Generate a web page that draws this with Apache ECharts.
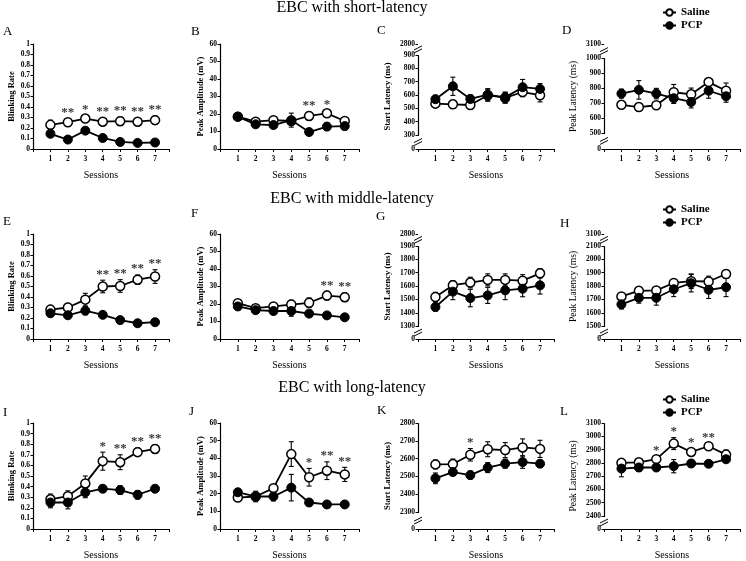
<!DOCTYPE html>
<html>
<head>
<meta charset="utf-8">
<script src="https://cdn.jsdelivr.net/npm/echarts@6/dist/echarts.min.js"></script>
<style>
html, body { margin: 0; padding: 0; background: #fff; }
#chart { width: 746px; height: 561px; }
</style>
</head>
<body>
<div id="chart"></div>
<script>
var sessions = [1, 2, 3, 4, 5, 6, 7]

// short-latency
var salineA = [0.23, 0.255, 0.29, 0.26, 0.265, 0.26, 0.275]
var salineErrA = [0.045, 0.03, 0.03, 0.035, 0.04, 0.035, 0.04]
var pcpA = [0.145, 0.09, 0.175, 0.105, 0.067, 0.058, 0.062]
var pcpErrA = [0.02, 0.02, 0.02, 0.015, 0.01, 0.01, 0.01]
var starsA = ['', '**', '*', '**', '**', '**', '**']

var salineB = [18.5, 15.6, 16.5, 16, 18.9, 20.4, 16]
var salineErrB = [1, 1.5, 1.2, 1.5, 2.2, 1.5, 1.5]
var pcpB = [18.5, 14.1, 13.7, 16.5, 9.7, 12.8, 13.1]
var pcpErrB = [1, 1.5, 1.2, 4, 1, 2, 2.2]
var starsB = ['', '', '', '', '**', '*', '']

var salineC = [535, 530, 525, 598, 578, 622, 598]
var salineErrC = [25, 30, 30, 45, 40, 35, 50]
var pcpC = [568, 665, 570, 602, 582, 658, 645]
var pcpErrC = [30, 68, 30, 45, 40, 58, 40]
var starsC = ['', '', '', '', '', '', '']

var salineD = [688, 673, 685, 772, 758, 840, 782]
var salineErrD = [20, 25, 25, 52, 42, 25, 52]
var pcpD = [763, 788, 763, 732, 707, 782, 745]
var pcpErrD = [30, 62, 35, 35, 40, 50, 40]
var starsD = ['', '', '', '', '', '', '']

// middle-latency
var salineE = [0.28, 0.30, 0.375, 0.50, 0.505, 0.565, 0.595]
var salineErrE = [0.04, 0.04, 0.06, 0.06, 0.06, 0.045, 0.065]
var pcpE = [0.245, 0.226, 0.27, 0.23, 0.18, 0.15, 0.16]
var pcpErrE = [0.02, 0.02, 0.04, 0.02, 0.02, 0.02, 0.02]
var starsE = ['', '', '', '**', '**', '**', '**']

var salineF = [20.5, 17.6, 18.6, 19.7, 20.7, 24.8, 23.9]
var salineErrF = [1.2, 1.2, 1.2, 2.5, 2.8, 2.5, 2.5]
var pcpF = [18.6, 16.5, 16, 16, 14.5, 13.5, 12.4]
var pcpErrF = [1, 1, 1, 3, 1, 1, 1]
var starsF = ['', '', '', '', '', '**', '**']

var salineG = [1518, 1606, 1626, 1646, 1646, 1640, 1695]
var salineErrG = [35, 35, 40, 45, 45, 45, 35]
var pcpG = [1443, 1558, 1510, 1530, 1568, 1580, 1605]
var pcpErrG = [30, 60, 65, 60, 70, 60, 65]
var starsG = ['', '', '', '', '', '', '']

var salineH = [1722, 1764, 1767, 1823, 1836, 1834, 1890]
var salineErrH = [25, 28, 25, 25, 55, 40, 30]
var pcpH = [1663, 1712, 1712, 1776, 1821, 1772, 1791]
var pcpErrH = [35, 40, 55, 55, 65, 65, 70]
var starsH = ['', '', '', '', '', '', '']

// long-latency
var salineI = [0.28, 0.31, 0.43, 0.64, 0.63, 0.725, 0.755]
var salineErrI = [0.05, 0.05, 0.07, 0.085, 0.07, 0.04, 0.04]
var pcpI = [0.25, 0.25, 0.345, 0.38, 0.367, 0.323, 0.38]
var pcpErrI = [0.05, 0.06, 0.05, 0.03, 0.04, 0.04, 0.03]
var starsI = ['', '', '', '*', '**', '**', '**']

var salineJ = [17.8, 18.4, 23.1, 42.4, 29.3, 33, 30.9]
var salineErrJ = [1.2, 2, 2, 7, 5, 5, 4]
var pcpJ = [20.8, 18.4, 18.4, 23.4, 15, 13.9, 13.9]
var pcpErrJ = [1.2, 3, 2.5, 7.5, 1, 0.8, 0.8]
var starsJ = ['', '', '', '', '*', '**', '**']

var salineK = [2568, 2570, 2622, 2653, 2648, 2663, 2655]
var salineErrK = [25, 28, 35, 42, 42, 48, 48]
var pcpK = [2490, 2525, 2508, 2550, 2572, 2581, 2572]
var pcpErrK = [30, 18, 22, 28, 25, 35, 18]
var starsK = ['', '', '*', '', '', '', '']

var salineL = [2800, 2804, 2828, 2945, 2882, 2925, 2862]
var salineErrL = [22, 18, 20, 45, 25, 22, 35]
var pcpL = [2757, 2765, 2765, 2775, 2795, 2793, 2827]
var pcpErrL = [62, 30, 25, 50, 25, 25, 20]
var starsL = ['', '', '*', '*', '*', '**', '']

var rowTitles = ['EBC with short-latency', 'EBC with middle-latency', 'EBC with long-latency']

// y axis scales (breaks: [start, end, gap])
var rateAxis = { name: 'Blinking Rate', min: 0, max: 1, interval: 0.1, breaks: [] }
var ampAxis = { name: 'Peak Amplitude (mV)', min: 0, max: 60, interval: 10, breaks: [] }
var startShort = { name: 'Start Latency (ms)', min: 0, max: 2800, interval: 100, breaks: [[0, 300, 104], [900, 2800, 81]] }
var peakShort = { name: 'Peak Latency (ms)', min: 0, max: 3100, interval: 100, breaks: [[0, 500, 108], [1000, 3100, 95]] }
var startMiddle = { name: 'Start Latency (ms)', min: 0, max: 2800, interval: 100, breaks: [[0, 1300, 96], [1900, 2800, 89]] }
var peakMiddle = { name: 'Peak Latency (ms)', min: 0, max: 3100, interval: 100, breaks: [[0, 1500, 96], [2100, 3100, 89]] }
var startLong = { name: 'Start Latency (ms)', min: 0, max: 2800, interval: 100, breaks: [[0, 2300, 94]] }
var peakLong = { name: 'Peak Latency (ms)', min: 0, max: 3100, interval: 100, breaks: [[0, 2400, 98]] }

var FONT = '"Liberation Serif", "Times New Roman", serif'
var colLeft = [33, 220, 418, 604]
var colWidth = [136, 139, 136, 136]
var rowTop = [44, 234, 423]
var rowHeight = [105, 105, 106]
var titleY = [8, 199, 388]
var legendTop = [2, 199, 389]

var panels = [
  { letter: 'A', row: 0, col: 0, s: salineA, se: salineErrA, p: pcpA, pe: pcpErrA, stars: starsA, y: rateAxis, lx: 3, ly: 32 },
  { letter: 'B', row: 0, col: 1, s: salineB, se: salineErrB, p: pcpB, pe: pcpErrB, stars: starsB, y: ampAxis, lx: 191, ly: 32 },
  { letter: 'C', row: 0, col: 2, s: salineC, se: salineErrC, p: pcpC, pe: pcpErrC, stars: starsC, y: startShort, lx: 377, ly: 31 },
  { letter: 'D', row: 0, col: 3, s: salineD, se: salineErrD, p: pcpD, pe: pcpErrD, stars: starsD, y: peakShort, lx: 562, ly: 31 },
  { letter: 'E', row: 1, col: 0, s: salineE, se: salineErrE, p: pcpE, pe: pcpErrE, stars: starsE, y: rateAxis, lx: 3, ly: 222 },
  { letter: 'F', row: 1, col: 1, s: salineF, se: salineErrF, p: pcpF, pe: pcpErrF, stars: starsF, y: ampAxis, lx: 191, ly: 214 },
  { letter: 'G', row: 1, col: 2, s: salineG, se: salineErrG, p: pcpG, pe: pcpErrG, stars: starsG, y: startMiddle, lx: 376, ly: 217 },
  { letter: 'H', row: 1, col: 3, s: salineH, se: salineErrH, p: pcpH, pe: pcpErrH, stars: starsH, y: peakMiddle, lx: 560, ly: 224 },
  { letter: 'I', row: 2, col: 0, s: salineI, se: salineErrI, p: pcpI, pe: pcpErrI, stars: starsI, y: rateAxis, lx: 3, ly: 413 },
  { letter: 'J', row: 2, col: 1, s: salineJ, se: salineErrJ, p: pcpJ, pe: pcpErrJ, stars: starsJ, y: ampAxis, lx: 189, ly: 412 },
  { letter: 'K', row: 2, col: 2, s: salineK, se: salineErrK, p: pcpK, pe: pcpErrK, stars: starsK, y: startLong, lx: 377, ly: 411 },
  { letter: 'L', row: 2, col: 3, s: salineL, se: salineErrL, p: pcpL, pe: pcpErrL, stars: starsL, y: peakLong, lx: 560, ly: 412 }
]

function renderErr (params, api) {
  var x = api.value(0)
  var y = api.value(1)
  var e = api.value(2)
  var top = api.coord([x, y + e])
  var bot = api.coord([x, y - e])
  var cap = 2.5
  var st = { stroke: '#000', lineWidth: 1.1 }
  return {
    type: 'group',
    children: [
      { type: 'line', shape: { x1: top[0], y1: top[1], x2: bot[0], y2: bot[1] }, style: st },
      { type: 'line', shape: { x1: top[0] - cap, y1: top[1], x2: top[0] + cap, y2: top[1] }, style: st },
      { type: 'line', shape: { x1: bot[0] - cap, y1: bot[1], x2: bot[0] + cap, y2: bot[1] }, style: st }
    ]
  }
}

// the two slashes on the y axis at each break
function renderBreak (params, api) {
  var a = api.coord([0, api.value(0)])
  var b = api.coord([0, api.value(1)])
  var x = a[0]
  var y = (a[1] + b[1]) / 2
  var st = { stroke: '#000', lineWidth: 1 }
  return {
    type: 'group',
    children: [
      { type: 'rect', shape: { x: x - 2, y: y - 1.5, width: 4, height: 3 }, style: { fill: '#fff' } },
      { type: 'line', shape: { x1: x - 4, y1: y + 0.5, x2: x + 4, y2: y - 3.5 }, style: st },
      { type: 'line', shape: { x1: x - 4, y1: y + 3.5, x2: x + 4, y2: y - 0.5 }, style: st }
    ]
  }
}

var grids = []
var xAxes = []
var yAxes = []
var series = []
var graphics = []

panels.forEach(function (pn, i) {
  var latency = pn.y.breaks.length > 0
  var peakLat = pn.y.name.indexOf('Peak Latency') === 0
  grids.push({ left: colLeft[pn.col], top: rowTop[pn.row], width: colWidth[pn.col], height: rowHeight[pn.row] })
  xAxes.push({
    type: 'value', gridIndex: i, min: 0, max: 7.8, interval: 1,
    name: 'Sessions', nameLocation: 'middle', nameGap: 21,
    nameTextStyle: { fontFamily: FONT, fontSize: 10, color: '#000' },
    axisLine: { lineStyle: { color: '#000', width: 1.2 } },
    axisTick: { show: true, length: 3, lineStyle: { color: '#000' } },
    splitLine: { show: false },
    axisLabel: {
      margin: 6, fontFamily: FONT, fontSize: 7.5, fontWeight: 'bold', color: '#000',
      formatter: function (v) { return (v >= 1 && v <= 7 && v % 1 === 0) ? String(v) : '' }
    }
  })
  var ya = {
    type: 'value', gridIndex: i, min: pn.y.min, max: pn.y.max, interval: pn.y.interval,
    name: pn.y.name, nameLocation: 'middle', nameGap: latency ? 26 : 15,
    nameTextStyle: {
      fontFamily: FONT, color: '#000',
      fontSize: peakLat ? 9.5 : 8.5, fontWeight: peakLat ? 'normal' : 'bold'
    },
    axisLine: { show: true, lineStyle: { color: '#000', width: 1.2 } },
    axisTick: { show: true, length: 2.5, lineStyle: { color: '#000' } },
    splitLine: { show: false },
    axisLabel: {
      margin: 3, fontFamily: FONT, fontSize: 7.5, fontWeight: 'bold', color: '#000',
      formatter: function (v) { return String(parseFloat(Number(v).toFixed(3))) }
    }
  }
  if (latency) {
    ya.breaks = pn.y.breaks.map(function (b) { return { start: b[0], end: b[1], gap: b[2] } })
    ya.breakArea = { show: false }
  }
  yAxes.push(ya)

  var errData = []
  sessions.forEach(function (s, k) {
    errData.push([s, pn.s[k], pn.se[k]])
    errData.push([s, pn.p[k], pn.pe[k]])
  })
  series.push({
    type: 'custom', xAxisIndex: i, yAxisIndex: i, renderItem: renderErr,
    data: errData, z: 1, clip: false, silent: true
  })
  series.push({
    name: 'Saline', type: 'line', xAxisIndex: i, yAxisIndex: i, z: 2,
    data: sessions.map(function (s, k) { return [s, pn.s[k]] }),
    symbol: 'circle', symbolSize: 9, showSymbol: true,
    lineStyle: { color: '#000', width: 1.8 },
    itemStyle: { color: '#fff', borderColor: '#000', borderWidth: 1.5 }
  })
  series.push({
    name: 'PCP', type: 'line', xAxisIndex: i, yAxisIndex: i, z: 3,
    data: sessions.map(function (s, k) { return [s, pn.p[k]] }),
    symbol: 'circle', symbolSize: 9, showSymbol: true,
    lineStyle: { color: '#000', width: 1.8 },
    itemStyle: { color: '#000', borderColor: '#000', borderWidth: 1 }
  })
  var starData = []
  sessions.forEach(function (s, k) {
    if (pn.stars[k]) {
      starData.push({ name: pn.stars[k], value: [s, Math.max(pn.s[k] + pn.se[k], pn.p[k] + pn.pe[k])] })
    }
  })
  if (starData.length) {
    series.push({
      type: 'scatter', xAxisIndex: i, yAxisIndex: i, z: 4, silent: true,
      symbolSize: 1, itemStyle: { color: 'rgba(0,0,0,0)' },
      data: starData,
      label: {
        show: true, position: 'top', distance: -1, formatter: '{b}',
        fontFamily: FONT, fontSize: 13, fontWeight: 'bold', color: '#000'
      }
    })
  }
  if (latency) {
    series.push({
      type: 'custom', xAxisIndex: i, yAxisIndex: i, z: 5, clip: false, silent: true,
      renderItem: renderBreak,
      data: pn.y.breaks.map(function (b) { return [b[0], b[1]] })
    })
  }
  graphics.push({
    type: 'text', left: pn.lx, top: pn.ly - 7,
    style: { text: pn.letter, fontFamily: FONT, fontSize: 13, fill: '#000' }
  })
})

rowTitles.forEach(function (t, r) {
  graphics.push({
    type: 'text', x: 352, y: titleY[r],
    style: { text: t, fontFamily: FONT, fontSize: 16, fill: '#000', textAlign: 'center', textVerticalAlign: 'middle' }
  })
})

var legends = legendTop.map(function (t) {
  return {
    data: ['Saline', 'PCP'], orient: 'vertical', left: 657, top: t,
    itemWidth: 13, itemHeight: 8, itemGap: 2, selectedMode: false,
    textStyle: { fontFamily: FONT, fontSize: 11, fontWeight: 'bold', color: '#000' }
  }
})

var chart = echarts.init(document.getElementById('chart'))
chart.setOption({
  animation: false,
  backgroundColor: '#fff',
  grid: grids,
  xAxis: xAxes,
  yAxis: yAxes,
  legend: legends,
  graphic: graphics,
  series: series
})
</script>
</body>
</html>
